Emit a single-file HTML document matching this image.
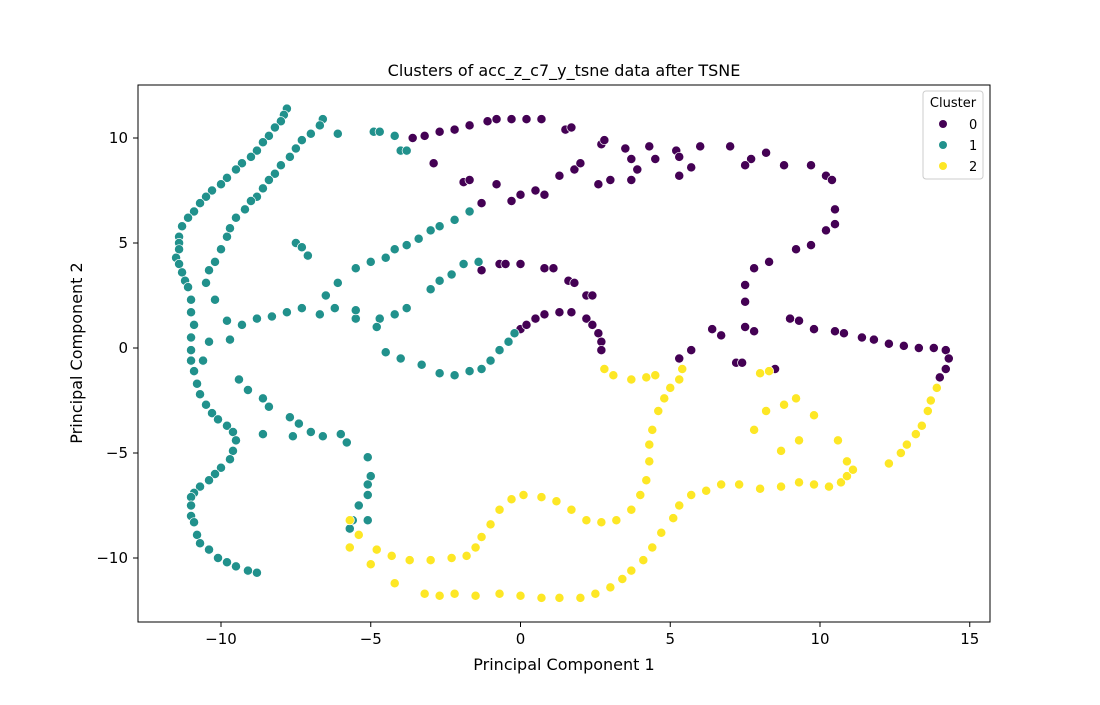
<!DOCTYPE html>
<html><head><meta charset="utf-8"><style>
body{margin:0;background:#fff;font-family:"Liberation Sans","DejaVu Sans",sans-serif}
svg text{font-family:"DejaVu Sans","Liberation Sans",sans-serif}
</style></head><body>
<svg id="chart" width="1100" height="700" xmlns="http://www.w3.org/2000/svg">
<rect width="1100" height="700" fill="#fff"/>
<text x="564" y="76" font-size="16" text-anchor="middle">Clusters of acc_z_c7_y_tsne data after TSNE</text>
<g id="points"></g>
<rect x="138" y="85" width="852" height="537" fill="none" stroke="#000" stroke-width="1"/>
<g id="xticks"></g>
<g id="yticks"></g>
<text x="564" y="670" font-size="16" text-anchor="middle">Principal Component 1</text>
<text transform="translate(82,353) rotate(-90)" font-size="16" text-anchor="middle">Principal Component 2</text>
<g>
<rect x="923" y="91" width="60" height="88" rx="3" fill="#fff" fill-opacity="0.8" stroke="#ccc"/>
<text x="953" y="107" font-size="13" text-anchor="middle">Cluster</text>
<g><circle cx="943" cy="124" r="4" fill="#440154"/><text x="969" y="129" font-size="13">0</text></g>
<g><circle cx="943" cy="145" r="4" fill="#21918c"/><text x="969" y="150" font-size="13">1</text></g>
<g><circle cx="943" cy="166" r="4" fill="#fde725"/><text x="969" y="171" font-size="13">2</text></g>
</g>
</svg>
<script>
const xTicks=[-10,-5,0,5,10,15];
const yTicks=[-10,-5,0,5,10];
const c1x=[-7.8,-7.9,-8.0,-8.2,-8.4,-8.6,-8.8,-9.0,-9.3,-9.5,-9.8,-10.0,-10.3,-10.5,-10.7,-10.9,-11.1,-11.3,-11.4,-11.4,-11.4,-11.5,-11.4,-11.3,-11.2,-11.1,-11.0,-11.0,-10.9,-11.0,-11.0,-11.0,-10.9,-10.8,-10.7,-10.5,-10.3,-10.1,-9.8,-9.6,-9.5,-9.6,-9.7,-10.0,-10.2,-10.4,-10.7,-10.9,-11.0,-11.0,-11.0,-10.9,-10.8,-10.7,-10.4,-10.1,-9.8,-9.5,-9.1,-8.8,
-6.6,-6.7,-7.0,-7.3,-7.5,-7.7,-8.0,-8.2,-8.4,-8.6,-8.8,-9.0,-9.2,-9.5,-9.7,-9.8,-10.0,-10.2,-10.4,-10.5,-10.2,-9.8,-9.7,-10.4,-10.6,
-7.5,-7.3,-7.1,
-9.3,-8.8,-8.3,-7.8,-7.3,-6.7,-6.2,-6.5,-6.1,-5.5,-5.0,-4.5,-4.2,-3.8,-3.4,-3.0,-2.7,-2.2,-1.7,
-3.0,-2.7,-2.3,-1.9,-1.4,-4.2,-3.8,-4.7,-5.5,-5.5,-4.8,
-4.5,-4.0,-3.3,-2.7,-2.2,-1.7,-1.3,-1.0,-0.7,-0.4,-0.2,
-6.1,-4.9,-4.7,-4.2,-4.0,-3.8,
-9.4,-9.1,-8.6,-8.4,-7.7,-7.4,-7.0,-6.6,-6.0,-5.8,-8.6,-7.6,-5.1,-5.0,-5.1,-5.1,-5.4,-5.6,-5.7,-5.1];
const c1y=[11.4,11.1,10.8,10.5,10.1,9.8,9.4,9.1,8.8,8.5,8.1,7.8,7.5,7.2,6.9,6.5,6.2,5.8,5.3,5.0,4.7,4.3,4.0,3.6,3.2,2.9,2.3,1.7,1.1,0.5,-0.1,-0.6,-1.1,-1.7,-2.2,-2.7,-3.1,-3.4,-3.7,-4.0,-4.4,-4.9,-5.3,-5.7,-6.0,-6.3,-6.6,-6.9,-7.1,-7.5,-8.0,-8.3,-8.9,-9.3,-9.6,-10.0,-10.2,-10.4,-10.6,-10.7,
10.9,10.6,10.2,9.9,9.5,9.1,8.7,8.3,8.0,7.6,7.2,7.0,6.6,6.2,5.7,5.3,4.7,4.1,3.7,3.1,2.3,1.3,0.4,0.3,-0.6,
5.0,4.8,4.4,
1.1,1.4,1.5,1.7,1.9,1.6,1.9,2.5,3.1,3.8,4.1,4.3,4.7,4.9,5.2,5.6,5.8,6.1,6.5,
2.8,3.2,3.5,4.0,4.1,1.6,1.9,1.4,1.4,1.8,1.0,
-0.2,-0.5,-0.8,-1.2,-1.3,-1.1,-1.0,-0.6,-0.1,0.3,0.7,
10.2,10.3,10.3,10.1,9.4,9.4,
-1.5,-2.0,-2.4,-2.8,-3.3,-3.6,-4.0,-4.2,-4.1,-4.5,-4.1,-4.2,-5.2,-6.1,-6.5,-7.0,-7.5,-8.2,-8.6,-8.2];
const c0x=[-3.6,-3.2,-2.7,-2.2,-1.7,-1.1,-0.8,-0.3,0.2,0.7,1.5,1.7,2.7,2.8,3.5,3.7,4.3,5.2,5.3,6.0,7.0,7.7,8.2,8.8,9.7,10.2,10.4,10.5,10.5,10.2,9.7,9.2,8.3,7.8,7.5,7.5,7.8,
-2.9,-1.9,-1.7,-1.7,-1.3,-0.8,-0.3,0.0,0.5,0.8,1.3,1.8,2.0,2.6,3.0,3.7,3.9,4.5,5.3,5.7,7.5,
-1.3,-0.7,-0.5,0.0,0.8,1.1,1.6,1.8,2.2,2.4,7.5,
0.0,0.2,0.5,0.8,1.3,1.7,2.2,2.4,2.6,2.7,2.7,
5.3,5.7,6.4,6.7,7.2,7.4,8.5,9.0,9.3,9.8,10.5,10.8,11.4,11.8,12.3,12.8,13.3,13.8,14.2,14.3,14.2,14.0];
const c0y=[10.0,10.1,10.3,10.4,10.6,10.8,10.9,10.9,10.9,10.9,10.4,10.5,9.7,9.9,9.5,9.0,9.6,9.4,9.1,9.6,9.6,9.0,9.3,8.7,8.7,8.2,8.0,6.6,5.9,5.6,4.9,4.7,4.1,3.8,3.0,2.2,0.8,
8.8,7.9,8.0,6.5,6.9,7.8,7.0,7.3,7.5,7.3,8.2,8.5,8.8,7.8,8.0,8.0,8.5,9.0,8.2,8.6,8.7,
3.7,4.0,4.0,4.0,3.8,3.8,3.2,3.1,2.5,2.5,1.0,
0.9,1.1,1.4,1.6,1.7,1.7,1.4,1.1,0.7,0.3,-0.1,
-0.5,-0.1,0.9,0.6,-0.7,-0.7,-1.0,1.4,1.3,0.9,0.8,0.7,0.5,0.4,0.2,0.1,0.0,0.0,-0.1,-0.5,-1.0,-1.4];
const c2x=[13.9,13.7,13.6,13.4,13.2,12.9,12.7,12.3,
-2.7,-2.2,-1.5,-0.7,0.0,0.7,1.3,2.0,2.5,3.0,3.4,3.7,4.1,4.4,4.7,5.1,5.3,5.7,6.2,6.7,7.3,8.0,8.7,9.3,9.8,10.3,10.7,10.9,11.1,
-5.7,-5.4,-4.8,-4.3,-3.7,-3.0,-2.3,-1.8,-1.5,-1.3,-1.0,-0.7,-0.3,0.1,0.7,1.2,1.7,2.2,2.7,3.2,3.7,4.0,4.2,4.3,4.3,4.4,4.6,4.8,5.0,5.3,5.4,
2.8,3.1,3.7,4.2,4.5,
-5.7,-5.0,-4.2,-3.2,
7.8,8.2,8.8,9.2,8.7,9.3,9.8,10.6,10.9,8.0,8.3];
const c2y=[-1.9,-2.5,-3.0,-3.7,-4.1,-4.6,-5.0,-5.5,
-11.8,-11.7,-11.8,-11.7,-11.8,-11.9,-11.9,-11.9,-11.7,-11.4,-11.0,-10.6,-10.1,-9.5,-8.8,-8.1,-7.5,-7.0,-6.8,-6.5,-6.5,-6.7,-6.6,-6.4,-6.5,-6.6,-6.4,-6.1,-5.8,
-8.2,-8.9,-9.6,-9.9,-10.1,-10.1,-10.0,-9.9,-9.5,-9.0,-8.4,-7.7,-7.2,-7.0,-7.1,-7.3,-7.7,-8.2,-8.3,-8.2,-7.7,-7.0,-6.3,-5.4,-4.6,-3.9,-3.0,-2.4,-1.9,-1.5,-1.0,
-1.0,-1.3,-1.5,-1.4,-1.3,
-9.5,-10.3,-11.2,-11.7,
-3.9,-3.0,-2.7,-2.4,-4.9,-4.4,-3.2,-4.4,-5.4,-1.2,-1.1];
const X=v=>520.5+v*29.95, Y=v=>348-v*21;
const NS='http://www.w3.org/2000/svg';
const pts=document.getElementById('points');
function draw(xs,ys,col,name){
  for(let i=0;i<xs.length;i++){
    const c=document.createElementNS(NS,'circle');
    c.setAttribute('cx',X(xs[i]));c.setAttribute('cy',Y(ys[i]));c.setAttribute('r',4.6);
    c.setAttribute('fill',col);c.setAttribute('stroke','#fff');c.setAttribute('stroke-width','0.7');
    
    
    pts.appendChild(c);
  }
}
draw(c0x,c0y,'#440154','point-cluster-0');
draw(c1x,c1y,'#21918c','point-cluster-1');
draw(c2x,c2y,'#fde725','point-cluster-2');
const xg=document.getElementById('xticks');
xTicks.forEach(t=>{
  const l=document.createElementNS(NS,'line');
  l.setAttribute('x1',X(t));l.setAttribute('x2',X(t));l.setAttribute('y1',622);l.setAttribute('y2',627);l.setAttribute('stroke','#000');
  
  
  xg.appendChild(l);
  const tx=document.createElementNS(NS,'text');
  tx.setAttribute('x',X(t));tx.setAttribute('y',644);tx.setAttribute('font-size','15');tx.setAttribute('text-anchor','middle');
  tx.textContent=t<0?'\u2212'+Math.abs(t):String(t);
  
  
  xg.appendChild(tx);
});
const yg=document.getElementById('yticks');
yTicks.forEach(t=>{
  const l=document.createElementNS(NS,'line');
  l.setAttribute('x1',133);l.setAttribute('x2',138);l.setAttribute('y1',Y(t));l.setAttribute('y2',Y(t));l.setAttribute('stroke','#000');
  
  
  yg.appendChild(l);
  const tx=document.createElementNS(NS,'text');
  tx.setAttribute('x',128);tx.setAttribute('y',Y(t)+5);tx.setAttribute('font-size','15');tx.setAttribute('text-anchor','end');
  tx.textContent=t<0?'\u2212'+Math.abs(t):String(t);
  
  
  yg.appendChild(tx);
});
</script>
</body></html>
